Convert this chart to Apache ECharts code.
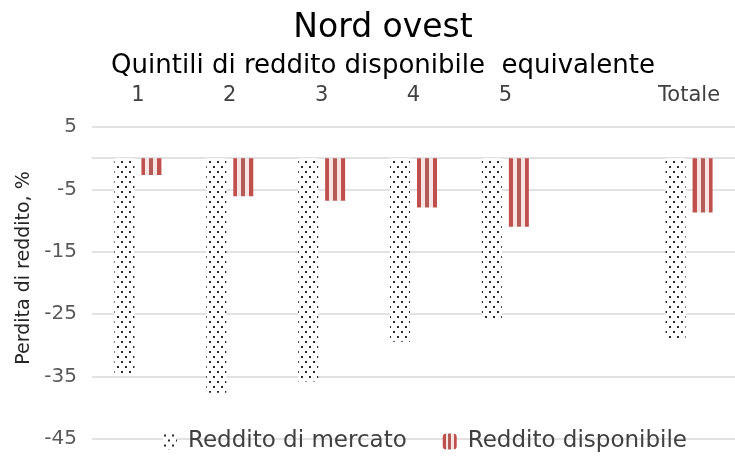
<!DOCTYPE html>
<html lang="it">
  <head>
    <meta charset="UTF-8" />
    <title>Nord ovest</title>
    <script src="https://cdn.jsdelivr.net/npm/echarts@6/dist/echarts.min.js"></script>
    <style>
      body { margin: 0; background: #fff; }
    </style>
  </head>
  <body>
    <div id="main" style="width: 735px; height: 456px"></div>
  </body>
  <script type="text/javascript">
    // quintili + totale (slot vuoto prima del totale)
    const categories = ["1", "2", "3", "4", "5", "", "Totale"];
    const redditoMercato = [-34.7, -37.6, -35.8, -29.4, -25.6, null, -29.0];
    const redditoDisponibile = [-2.7, -6.1, -6.8, -7.9, -11.0, null, -8.7];
    const yMin = -45, yMax = 5, yStep = 10;

    const font = "DejaVu Sans";

    // motivo a puntini per il reddito di mercato
    function dotPattern() {
      const c = document.createElement("canvas");
      c.width = 8;
      c.height = 10;
      const ctx = c.getContext("2d");
      ctx.fillStyle = "#fff";
      ctx.fillRect(0, 0, 8, 10);
      ctx.fillStyle = "#2b2b2b";
      ctx.fillRect(1, 1, 2, 2);
      ctx.fillRect(5, 6, 2, 2);
      return c;
    }

    // strisce verticali: gradiente con stop netti, relativo alla barra
    const red = "#c0504d", red2 = "#b45a57", light = "#f6e4e3";
    const stripes = new echarts.graphic.LinearGradient(0, 0, 1, 0, [
      { offset: 0, color: red }, { offset: 0.2, color: red },
      { offset: 0.2, color: light }, { offset: 0.4, color: light },
      { offset: 0.4, color: red2 }, { offset: 0.6, color: red2 },
      { offset: 0.6, color: light }, { offset: 0.8, color: light },
      { offset: 0.8, color: red }, { offset: 1, color: red },
    ]);

    var myChart = echarts.init(document.getElementById("main"));
    var option = {
      animation: false,
      textStyle: { fontFamily: font },
      title: {
        text: "Nord ovest",
        subtext: "Quintili di reddito disponibile  equivalente",
        left: 378,
        textAlign: "center",
        top: 7,
        itemGap: 8,
        textStyle: { fontFamily: font, fontSize: 33, fontWeight: "normal", color: "#000" },
        subtextStyle: { fontFamily: font, fontSize: 26, color: "#000" },
      },
      legend: {
        top: 425,
        left: 158,
        itemWidth: 14,
        itemHeight: 16,
        itemGap: 36,
        textStyle: { fontFamily: font, fontSize: 23, color: "#404040", padding: [0, 0, 0, 6] },
        data: ["Reddito di mercato", "Reddito disponibile"],
      },
      grid: { left: 92, right: 0, top: 127, bottom: 17, containLabel: false },
      xAxis: [
        {
          type: "category",
          data: categories,
          position: "top",
          axisLine: { show: false, onZero: false },
          axisTick: { show: false },
          axisLabel: { margin: 21, fontSize: 21, color: "#404040", fontFamily: font },
        },
        {
          type: "category",
          data: categories,
          position: "bottom",
          axisLine: { onZero: true, lineStyle: { color: "#d9d9d9", width: 1.5 } },
          axisTick: { show: false },
          axisLabel: { show: false },
        },
      ],
      yAxis: {
        type: "value",
        min: yMin,
        max: yMax,
        interval: yStep,
        name: "Perdita di reddito, %",
        nameLocation: "middle",
        nameGap: 54,
        nameTextStyle: { fontFamily: font, fontSize: 19, color: "#262626", padding: [0, 0, 0, 30] },
        axisLine: { show: false },
        axisTick: { show: false },
        axisLabel: { margin: 15, fontSize: 20, color: "#595959", fontFamily: font },
        splitLine: { lineStyle: { color: "#d9d9d9", width: 1.5 } },
      },
      series: [
        {
          name: "Reddito di mercato",
          type: "bar",
          xAxisIndex: 0,
          barWidth: 20,
          barGap: "35%",
          itemStyle: { color: { image: dotPattern(), repeat: "repeat" } },
          data: redditoMercato,
        },
        {
          name: "Reddito disponibile",
          type: "bar",
          xAxisIndex: 0,
          barWidth: 20,
          barGap: "35%",
          itemStyle: { color: stripes },
          data: redditoDisponibile,
        },
      ],
    };

    option && myChart.setOption(option);
  </script>
</html>
